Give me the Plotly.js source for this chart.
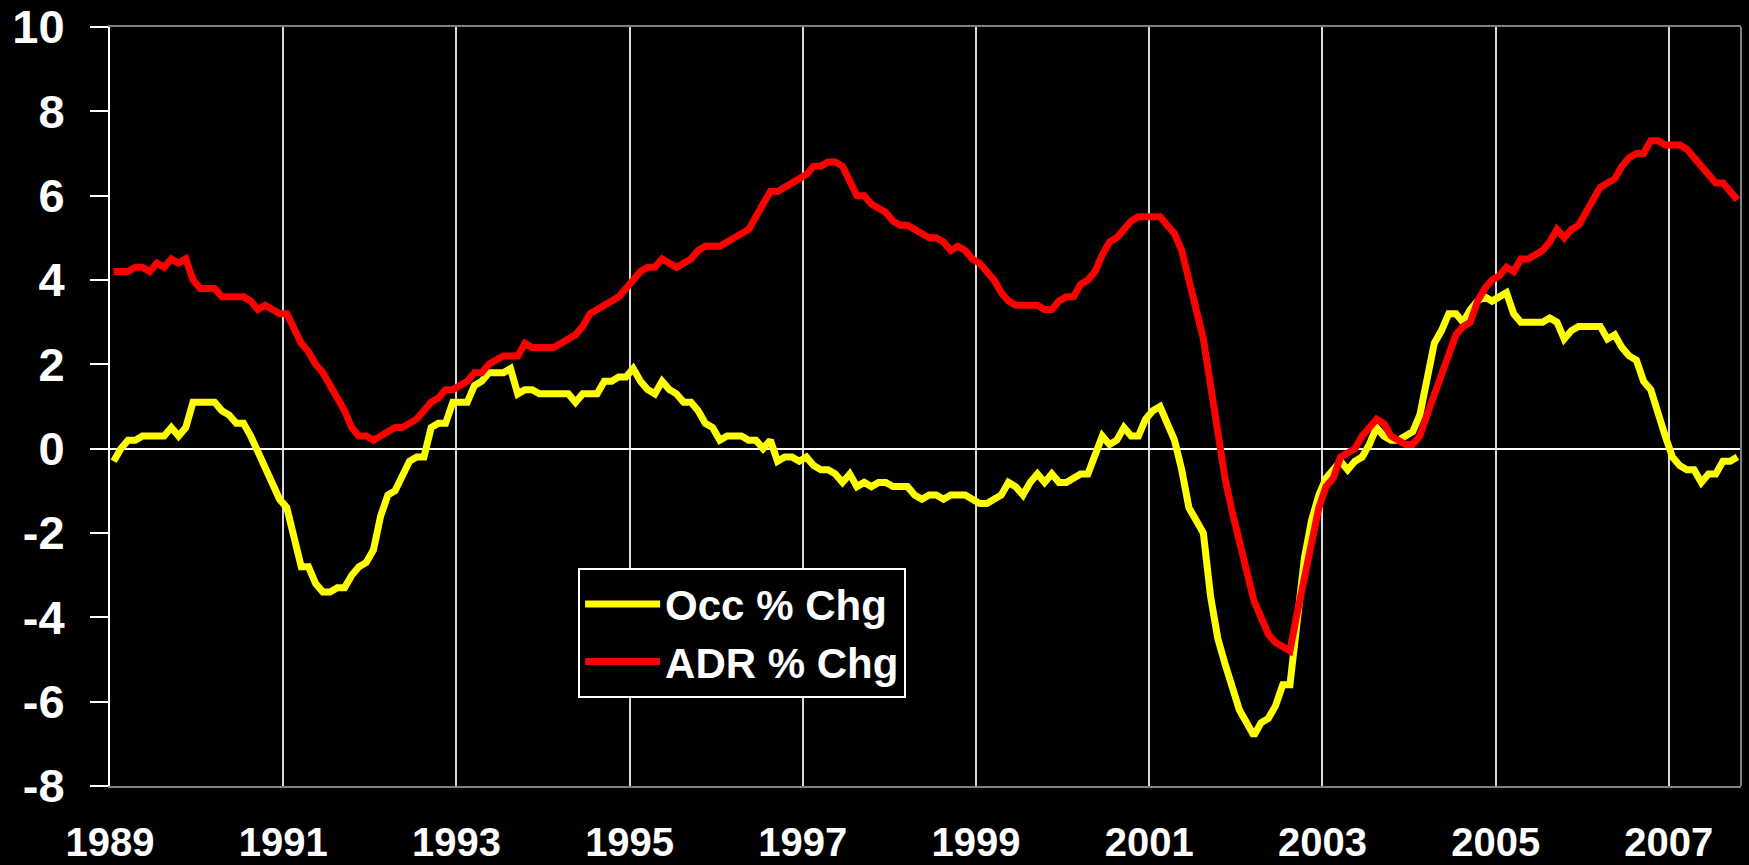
<!DOCTYPE html>
<html>
<head>
<meta charset="utf-8">
<script src="https://cdn.plot.ly/plotly-3.0.1.min.js"></script>
<style>
html, body { margin: 0; padding: 0; background: #000; }
#chart { width: 1749px; height: 865px; }
</style>
</head>
<body>
<div id="chart"></div>
<script>
// Monthly series, Jan 1989 onwards
const startYear = 1989;

const occPctChg = [
  -0.3, 0.0, 0.2, 0.2, 0.3, 0.3, 0.3, 0.3, 0.5, 0.3,
  0.5, 1.1, 1.1, 1.1, 1.1, 0.9, 0.8, 0.6, 0.6, 0.3,
  -0.1, -0.5, -0.9, -1.2, -1.4, -2.1, -2.8, -2.8, -3.2, -3.4,
  -3.4, -3.3, -3.3, -3.0, -2.8, -2.7, -2.4, -1.6, -1.1, -1.0,
  -0.6, -0.3, -0.2, -0.2, 0.5, 0.6, 0.6, 1.1, 1.1, 1.1,
  1.5, 1.6, 1.8, 1.8, 1.8, 1.9, 1.3, 1.4, 1.4, 1.3,
  1.3, 1.3, 1.3, 1.3, 1.1, 1.3, 1.3, 1.3, 1.6, 1.6,
  1.7, 1.7, 1.9, 1.6, 1.4, 1.3, 1.6, 1.4, 1.3, 1.1,
  1.1, 0.9, 0.6, 0.5, 0.2, 0.3, 0.3, 0.3, 0.2, 0.2,
  0.0, 0.2, -0.3, -0.2, -0.2, -0.3, -0.2, -0.4, -0.5, -0.5,
  -0.6, -0.8, -0.6, -0.9, -0.8, -0.9, -0.8, -0.8, -0.9, -0.9,
  -0.9, -1.1, -1.2, -1.1, -1.1, -1.2, -1.1, -1.1, -1.1, -1.2,
  -1.3, -1.3, -1.2, -1.1, -0.8, -0.9, -1.1, -0.8, -0.6, -0.8,
  -0.6, -0.8, -0.8, -0.7, -0.6, -0.6, -0.2, 0.3, 0.1, 0.2,
  0.5, 0.3, 0.3, 0.7, 0.9, 1.0, 0.6, 0.2, -0.5, -1.4,
  -1.7, -2.0, -3.5, -4.5, -5.1, -5.7, -6.2, -6.5, -6.8, -6.5,
  -6.4, -6.1, -5.6, -5.6, -4.2, -2.6, -1.7, -1.1, -0.7, -0.5,
  -0.3, -0.5, -0.3, -0.2, 0.1, 0.5, 0.3, 0.2, 0.2, 0.3,
  0.4, 0.8, 1.7, 2.5, 2.8, 3.2, 3.2, 3.0, 3.3, 3.5,
  3.6, 3.5, 3.6, 3.7, 3.2, 3.0, 3.0, 3.0, 3.0, 3.1,
  3.0, 2.6, 2.8, 2.9, 2.9, 2.9, 2.9, 2.6, 2.7, 2.4,
  2.2, 2.1, 1.6, 1.4, 0.8, 0.3, -0.2, -0.4, -0.5, -0.5,
  -0.8, -0.6, -0.6, -0.3, -0.3, -0.2
];

const adrPctChg = [
  4.2, 4.2, 4.2, 4.3, 4.3, 4.2, 4.4, 4.3, 4.5, 4.4,
  4.5, 4.0, 3.8, 3.8, 3.8, 3.6, 3.6, 3.6, 3.6, 3.5,
  3.3, 3.4, 3.3, 3.2, 3.2, 2.8, 2.5, 2.3, 2.0, 1.8,
  1.5, 1.2, 0.9, 0.5, 0.3, 0.3, 0.2, 0.3, 0.4, 0.5,
  0.5, 0.6, 0.7, 0.9, 1.1, 1.2, 1.4, 1.4, 1.5, 1.6,
  1.8, 1.8, 2.0, 2.1, 2.2, 2.2, 2.2, 2.5, 2.4, 2.4,
  2.4, 2.4, 2.5, 2.6, 2.7, 2.9, 3.2, 3.3, 3.4, 3.5,
  3.6, 3.8, 4.0, 4.2, 4.3, 4.3, 4.5, 4.4, 4.3, 4.4,
  4.5, 4.7, 4.8, 4.8, 4.8, 4.9, 5.0, 5.1, 5.2, 5.5,
  5.8, 6.1, 6.1, 6.2, 6.3, 6.4, 6.5, 6.7, 6.7, 6.8,
  6.8, 6.7, 6.3, 6.0, 6.0, 5.8, 5.7, 5.6, 5.4, 5.3,
  5.3, 5.2, 5.1, 5.0, 5.0, 4.9, 4.7, 4.8, 4.7, 4.5,
  4.4, 4.2, 4.0, 3.7, 3.5, 3.4, 3.4, 3.4, 3.4, 3.3,
  3.3, 3.5, 3.6, 3.6, 3.9, 4.0, 4.2, 4.6, 4.9, 5.0,
  5.2, 5.4, 5.5, 5.5, 5.5, 5.5, 5.3, 5.1, 4.7, 4.0,
  3.3, 2.6, 1.5, 0.3, -0.7, -1.5, -2.2, -3.0, -3.6, -4.0,
  -4.4, -4.6, -4.7, -4.8, -3.9, -3.1, -2.2, -1.4, -0.9, -0.7,
  -0.2, -0.1, 0.0, 0.3, 0.5, 0.7, 0.6, 0.3, 0.2, 0.1,
  0.1, 0.3, 0.8, 1.3, 1.8, 2.3, 2.7, 2.9, 3.0, 3.5,
  3.8, 4.0, 4.1, 4.3, 4.2, 4.5, 4.5, 4.6, 4.7, 4.9,
  5.2, 5.0, 5.2, 5.3, 5.6, 5.9, 6.2, 6.3, 6.4, 6.7,
  6.9, 7.0, 7.0, 7.3, 7.3, 7.2, 7.2, 7.2, 7.1, 6.9,
  6.7, 6.5, 6.3, 6.3, 6.1, 5.9
];

const seriesNames = ["Occ % Chg", "ADR % Chg"];
const xTickVals = [1989, 1991, 1993, 1995, 1997, 1999, 2001, 2003, 2005, 2007];
const xTickText = ["1989", "1991", "1993", "1995", "1997", "1999", "2001", "2003", "2005", "2007"];
const yTickVals = [-8, -6, -4, -2, 0, 2, 4, 6, 8, 10];
const yTickText = ["-8", "-6", "-4", "-2", "0", "2", "4", "6", "8", "10"];

// each month sits in the middle of its slot on the time axis
const months = occPctChg.map((_, i) => startYear + (i + 0.5) / 12);

const traces = [
  {
    x: months, y: occPctChg, name: seriesNames[0], type: "scatter", mode: "lines",
    line: { color: "#FFFF00", width: 7 }, hoverinfo: "skip"
  },
  {
    x: months, y: adrPctChg, name: seriesNames[1], type: "scatter", mode: "lines",
    line: { color: "#FF0000", width: 7 }, hoverinfo: "skip"
  }
];

const FONT = "Liberation Sans, Arial, Helvetica, sans-serif";

const layout = {
  width: 1749,
  height: 865,
  paper_bgcolor: "#000000",
  plot_bgcolor: "#000000",
  margin: { l: 110, r: 8, t: 27, b: 79, pad: 0 },
  font: { family: FONT, color: "#FFFFFF", weight: 700 },
  showlegend: true,
  xaxis: {
    range: [startYear, startYear + occPctChg.length / 12],
    tickmode: "array",
    tickvals: xTickVals,
    ticktext: xTickText,
    ticks: "",
    ticklabelstandoff: 20,
    tickfont: { family: FONT, size: 40, color: "#FFFFFF", weight: 700 },
    showgrid: true,
    gridcolor: "#D9D9D9",
    gridwidth: 2,
    zeroline: false,
    showline: true,
    linecolor: "#808080",
    linewidth: 2,
    mirror: true,
    fixedrange: true
  },
  yaxis: {
    range: [-8, 10],
    tickmode: "array",
    tickvals: yTickVals,
    ticktext: yTickText,
    ticks: "outside",
    ticklen: 18,
    tickwidth: 2,
    tickcolor: "#FFFFFF",
    ticklabelstandoff: 16,
    tickfont: { family: FONT, size: 47, color: "#FFFFFF", weight: 700 },
    showgrid: false,
    zeroline: true,
    zerolinecolor: "#FFFFFF",
    zerolinewidth: 2,
    showline: true,
    linecolor: "#FFFFFF",
    linewidth: 2,
    fixedrange: true
  },
  shapes: [
    { type: "line", xref: "paper", yref: "paper", x0: 1, x1: 1, y0: 0, y1: 1,
      line: { color: "#808080", width: 2 }, layer: "above" }
  ],
  legend: {
    x: 0.287, y: 0.287, xanchor: "left", yanchor: "top",
    bgcolor: "#000000",
    bordercolor: "#FFFFFF",
    borderwidth: 2,
    font: { family: FONT, size: 42, color: "#FFFFFF", weight: 700 },
    itemwidth: 75,
    tracegroupgap: 0
  }
};

Plotly.newPlot("chart", traces, layout, { displayModeBar: false, staticPlot: true });
</script>
</body>
</html>
